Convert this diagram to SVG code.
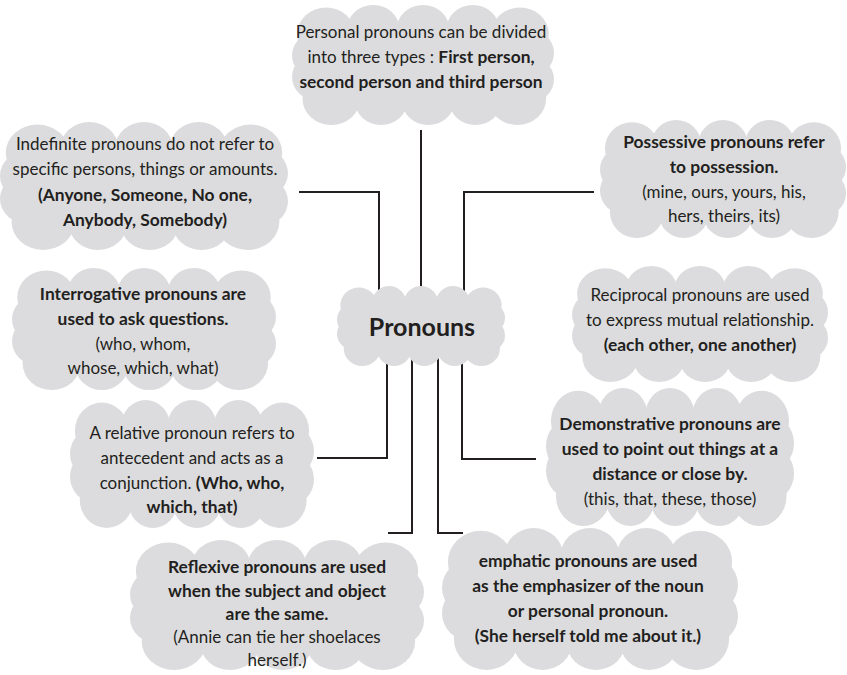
<svg xmlns="http://www.w3.org/2000/svg" xmlns:xlink="http://www.w3.org/1999/xlink" width="847" height="675" viewBox="0 0 847 675">
<style>
.c{fill:#dcdcde}
text{font-family:Lato,"Liberation Sans",sans-serif;font-size:17px;fill:#231f20;text-anchor:middle}
.b{font-weight:bold;font-size:17.4px}
.big{font-size:25px;font-weight:bold}
.ln{fill:none;stroke:#231f20;stroke-width:2}
</style>
<defs>
<symbol id="cloud" viewBox="0 0 200 100" preserveAspectRatio="none">
<g class="c">
<rect x="18" y="18" width="164" height="64"/>
<circle cx="26" cy="24" r="22"/><circle cx="62" cy="20" r="20"/><circle cx="100" cy="20" r="20"/><circle cx="138" cy="20" r="20"/><circle cx="174" cy="24" r="22"/>
<circle cx="30" cy="78" r="22"/><circle cx="68" cy="80" r="20"/><circle cx="104" cy="80" r="20"/><circle cx="140" cy="80" r="20"/><circle cx="172" cy="78" r="22"/>
<circle cx="20" cy="42" r="20"/><circle cx="20" cy="60" r="20"/>
<circle cx="180" cy="40" r="20"/><circle cx="180" cy="62" r="20"/>
</g>
</symbol>
</defs>
<g id="connectors">
<path class="ln" d="M421,130 V300"/>
<path class="ln" d="M299,192 H379 V300"/>
<path class="ln" d="M594,192 H464 V300"/>
<path class="ln" d="M387,350 V458 H317"/>
<path class="ln" d="M412,350 V533 H388"/>
<path class="ln" d="M438,350 V533 H463"/>
<path class="ln" d="M462,350 V459 H536"/>
</g>
<g id="personal">
<use xlink:href="#cloud" x="292" y="5" width="262" height="120"/>
<text x="421" y="38">Personal pronouns can be divided</text>
<text x="421" y="63">into three types : <tspan class="b">First person,</tspan></text>
<text x="421" y="88" class="b">second person and third person</text>
</g>
<g id="indefinite">
<use xlink:href="#cloud" x="0" y="122" width="288" height="128"/>
<text x="145" y="150">Indefinite pronouns do not refer to</text>
<text x="145" y="175">specific persons, things or amounts.</text>
<text x="145" y="201" class="b">(Anyone, Someone, No one,</text>
<text x="145" y="226" class="b">Anybody, Somebody)</text>
</g>
<g id="possessive">
<use xlink:href="#cloud" x="600" y="120" width="246" height="118"/>
<text x="724" y="148" class="b">Possessive pronouns refer</text>
<text x="724" y="173" class="b">to possession.</text>
<text x="724" y="198">(mine, ours, yours, his,</text>
<text x="724" y="222">hers, theirs, its)</text>
</g>
<g id="interrogative">
<use xlink:href="#cloud" x="12" y="268" width="264" height="122"/>
<text x="143" y="300" class="b">Interrogative pronouns are</text>
<text x="143" y="325" class="b">used to ask questions.</text>
<text x="143" y="350">(who, whom,</text>
<text x="143" y="374">whose, which, what)</text>
</g>
<g id="pronouns">
<use xlink:href="#cloud" x="337" y="286" width="168" height="80"/>
<text x="422" y="336" class="big">Pronouns</text>
</g>
<g id="reciprocal">
<use xlink:href="#cloud" x="572" y="266" width="256" height="116"/>
<text x="700" y="301">Reciprocal pronouns are used</text>
<text x="700" y="326">to express mutual relationship.</text>
<text x="700" y="351" class="b">(each other, one another)</text>
</g>
<g id="relative">
<use xlink:href="#cloud" x="70" y="400" width="244" height="128"/>
<text x="192" y="439">A relative pronoun refers to</text>
<text x="192" y="464">antecedent and acts as a</text>
<text x="192" y="489">conjunction. <tspan class="b">(Who, who,</tspan></text>
<text x="192" y="513" class="b">which, that)</text>
</g>
<g id="demonstrative">
<use xlink:href="#cloud" x="546" y="388" width="248" height="138"/>
<text x="670" y="430" class="b">Demonstrative pronouns are</text>
<text x="670" y="455" class="b">used to point out things at a</text>
<text x="670" y="480" class="b">distance or close by.</text>
<text x="670" y="505">(this, that, these, those)</text>
</g>
<g id="reflexive">
<use xlink:href="#cloud" x="130" y="540" width="294" height="130"/>
<text x="277" y="573" class="b">Reflexive pronouns are used</text>
<text x="277" y="597" class="b">when the subject and object</text>
<text x="277" y="620" class="b">are the same.</text>
<text x="277" y="643">(Annie can tie her shoelaces</text>
<text x="277" y="666">herself.)</text>
</g>
<g id="emphatic">
<use xlink:href="#cloud" x="442" y="528" width="296" height="142"/>
<text x="588" y="567" class="b">emphatic pronouns are used</text>
<text x="588" y="592" class="b">as the emphasizer of the noun</text>
<text x="588" y="617" class="b">or personal pronoun.</text>
<text x="588" y="642" class="b">(She herself told me about it.)</text>
</g>
</svg>
